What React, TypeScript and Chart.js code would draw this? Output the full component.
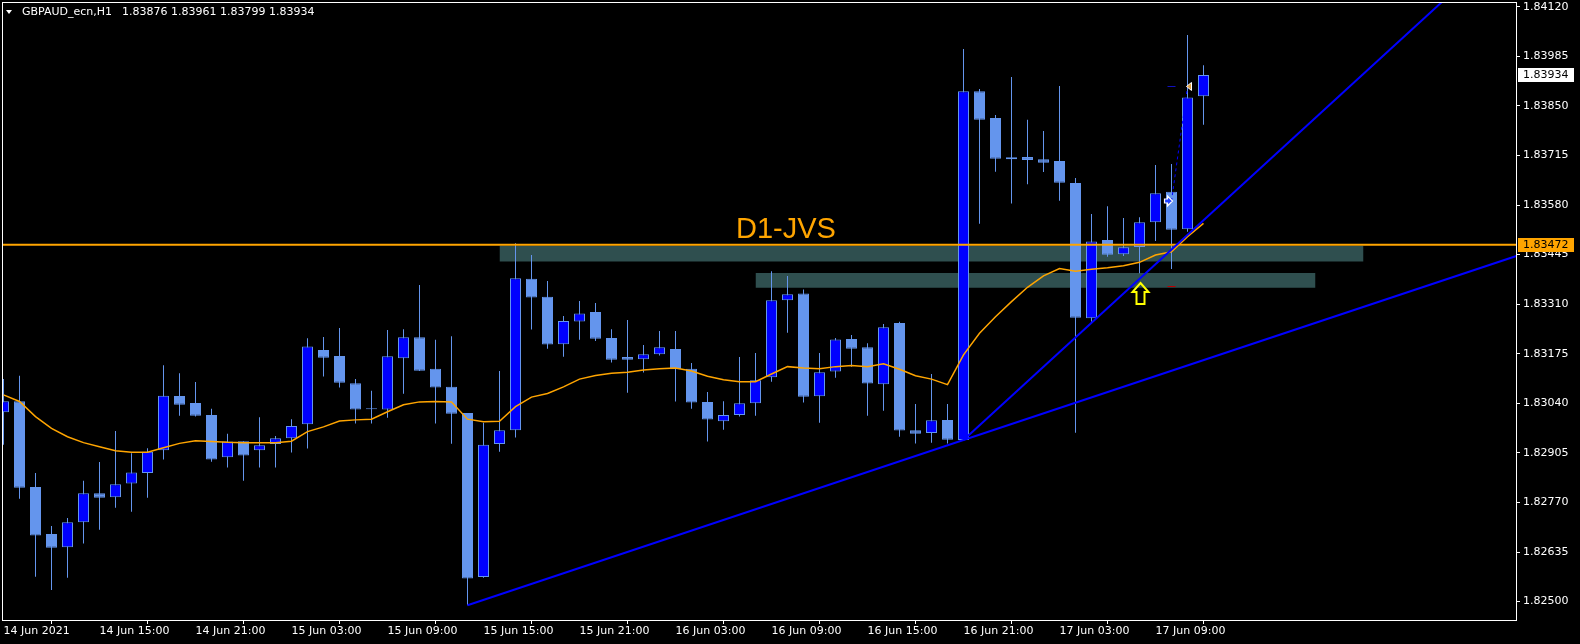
import React, { useEffect, useRef } from "react";
import { Chart, registerables } from "chart.js";
Chart.register(...registerables);

// ---------- data ----------
const symbolTitle = "GBPAUD_ecn,H1";

const opens = [
  1.83016, 1.83046, 1.82812, 1.82684, 1.82648, 1.82716, 1.82795, 1.82784, 1.82822, 1.8285,
  1.82912, 1.8306, 1.83041, 1.83008, 1.82893, 1.82937, 1.82912, 1.82929, 1.82945, 1.82983,
  1.83185, 1.83169, 1.83095, 1.83024, 1.83023, 1.83163, 1.8322, 1.83134, 1.83085, 1.83014,
  1.82567, 1.82929, 1.82967, 1.83379, 1.8333, 1.83201, 1.83263, 1.83289, 1.83218, 1.83166,
  1.8316, 1.83174, 1.83188, 1.83134, 1.83044, 1.82991, 1.83008, 1.8304, 1.83111, 1.83321,
  1.83339, 1.83059, 1.83127, 1.83215, 1.83193, 1.83092, 1.83259, 1.82967, 1.82959, 1.82995,
  1.8294, 1.8389, 1.83817, 1.83705, 1.83711, 1.83705, 1.837, 1.8364, 1.83272, 1.83485,
  1.83446, 1.83466, 1.83533, 1.83616, 1.83514, 1.83876,
];
const highs = [
  1.83106, 1.83115, 1.8285, 1.82706, 1.82728, 1.82829, 1.8288, 1.82965, 1.82904, 1.82918,
  1.83144, 1.83122, 1.83098, 1.83025, 1.82957, 1.82937, 1.83002, 1.82951, 1.82997, 1.83217,
  1.83221, 1.83245, 1.83106, 1.83074, 1.8324, 1.83242, 1.83362, 1.83213, 1.83223, 1.83014,
  1.82987, 1.83128, 1.83476, 1.83444, 1.83373, 1.83278, 1.83319, 1.83313, 1.83242, 1.83267,
  1.83199, 1.83237, 1.83237, 1.8315, 1.83071, 1.83046, 1.83166, 1.83177, 1.834, 1.83387,
  1.8335, 1.83177, 1.83218, 1.83226, 1.83204, 1.83256, 1.83262, 1.83038, 1.8312, 1.83038,
  1.84005, 1.83896, 1.83825, 1.83929, 1.83812, 1.83782, 1.83904, 1.83654, 1.83556, 1.83577,
  1.83545, 1.83547, 1.83689, 1.83692, 1.84043, 1.83961,
];
const lows = [
  1.82927, 1.8278, 1.82568, 1.82532, 1.82565, 1.82658, 1.82696, 1.82756, 1.82745, 1.82783,
  1.82887, 1.83006, 1.83004, 1.82881, 1.82865, 1.82829, 1.82865, 1.82865, 1.82906, 1.82917,
  1.83113, 1.83083, 1.82985, 1.82985, 1.83001, 1.83066, 1.83128, 1.82985, 1.8293, 1.8249,
  1.82565, 1.82908, 1.82947, 1.83241, 1.83189, 1.83167, 1.83213, 1.8321, 1.83151, 1.83069,
  1.83124, 1.8317, 1.83045, 1.83025, 1.82936, 1.82968, 1.83004, 1.83006, 1.83099, 1.83232,
  1.83042, 1.82987, 1.8311, 1.8314, 1.83006, 1.8302, 1.82949, 1.82931, 1.82933, 1.82931,
  1.82938, 1.83529, 1.83671, 1.83584, 1.83637, 1.8367, 1.83592, 1.8296, 1.83262, 1.83439,
  1.83441, 1.83394, 1.83482, 1.83406, 1.83507, 1.83799,
];
const closes = [
  1.83046, 1.8281, 1.8268, 1.82647, 1.82716, 1.82795, 1.82783, 1.8282, 1.82852, 1.82908,
  1.83061, 1.83036, 1.83006, 1.82887, 1.82936, 1.82898, 1.82926, 1.82945, 1.82978, 1.83195,
  1.83164, 1.83096, 1.83023, 1.83024, 1.83168, 1.8322, 1.83129, 1.83083, 1.83012, 1.82563,
  1.82927, 1.82967, 1.83381, 1.83328, 1.832, 1.83264, 1.83285, 1.83216, 1.83159, 1.83159,
  1.83174, 1.83193, 1.83133, 1.83042, 1.82996, 1.83008, 1.8304, 1.83103, 1.83321, 1.83337,
  1.83058, 1.83125, 1.83214, 1.83189, 1.83094, 1.83247, 1.82966, 1.82957, 1.82994, 1.82941,
  1.8389, 1.83812, 1.83706, 1.8371, 1.83703, 1.83695, 1.83641, 1.83273, 1.83481, 1.83445,
  1.83465, 1.83533, 1.83612, 1.83513, 1.83873, 1.83934,
];
const movingAverage = [
  1.83063, 1.83045, 1.83004, 1.82972, 1.82949, 1.82933, 1.82922, 1.82911, 1.82907, 1.82907,
  1.82919, 1.82931, 1.82938, 1.82936, 1.82934, 1.82933, 1.82933, 1.82933, 1.82937, 1.82963,
  1.82976, 1.82992, 1.82995, 1.82997, 1.83017, 1.83036, 1.83044, 1.83045, 1.83044, 1.82997,
  1.8299, 1.82991, 1.83031, 1.83057, 1.83067, 1.83085, 1.83106, 1.83116, 1.83122, 1.83125,
  1.83131, 1.83134, 1.83136, 1.83128, 1.83114, 1.83104, 1.83099, 1.83099, 1.8312, 1.8314,
  1.83136, 1.83134, 1.8314, 1.83143, 1.8314, 1.83148, 1.83133, 1.83115, 1.83106, 1.83091,
  1.83172, 1.83231, 1.83276, 1.83317, 1.83356, 1.83387, 1.83407, 1.834, 1.83405, 1.83409,
  1.83415, 1.83424, 1.83444, 1.83453, 1.83494, 1.8353,
];

const xTickBars = [0, 6, 12, 18, 24, 30, 36, 42, 48, 54, 60, 66, 72];
const xTickLabels = [
  "14 Jun 2021", "14 Jun 15:00", "14 Jun 21:00", "15 Jun 03:00", "15 Jun 09:00",
  "15 Jun 15:00", "15 Jun 21:00", "16 Jun 03:00", "16 Jun 09:00", "16 Jun 15:00",
  "16 Jun 21:00", "17 Jun 03:00", "17 Jun 09:00",
];
const yTicks = [
  1.825, 1.82635, 1.8277, 1.82905, 1.8304, 1.83175, 1.8331, 1.83445, 1.8358, 1.83715,
  1.8385, 1.83985, 1.8412,
];

// chart objects
const levelPrice = 1.83472; // horizontal line "D1-JVS"
const levelName = "D1-JVS";
const levelLabelAnchor = { bar: 48.9, price: 1.83491 };
const zoneUpper = { fromBar: 31, toBar: 85, top: 1.83469, bottom: 1.83426 };
const zoneLower = { fromBar: 47, toBar: 82, top: 1.83395, bottom: 1.83355 };
const trendLow = [
  { x: 29, y: 1.8249 },
  { x: 60, y: 1.8294 },
  { x: 94.6, y: 1.83442 },
];
const trendSteep = [
  { x: 60, y: 1.8294 },
  { x: 89.9, y: 1.84133 },
];
const signalArrow = { bar: 71, price: 1.83367 };
const tradeOpen = { bar: 73, price: 1.83591 };
const tradeClose = { bar: 74, price: 1.83903 };
const takeProfit = { bar: 73, price: 1.83903 };
const stopLoss = { bar: 73, price: 1.8336 };

// view range
const X_MIN = -0.09375;
const X_MAX = 94.53125;
const Y_MIN = 1.8245;
const Y_MAX = 1.84133;

const BULL = "#0000FF";
const BEAR = "#6495ED";
const ORANGE = "#FFA500";
const ZONE = "#2F4F4F";
const FONT = "DejaVu Sans";

export default function App() {
  const ref = useRef<HTMLCanvasElement>(null);

  useEffect(() => {
    document.body.style.margin = "0";
    document.body.style.background = "#000";
    const canvas = ref.current!;
    const idx = opens.map((_, i) => i);
    const isBull = (i: number) => closes[i] > opens[i];

    const bg = {
      id: "bg",
      beforeDraw(chart: any) {
        const c = chart.ctx;
        c.save();
        c.fillStyle = "#000";
        c.fillRect(0, 0, chart.width, chart.height);
        c.restore();
      },
    };

    const overlay = {
      id: "overlay",
      afterDatasetsDraw(chart: any) {
        const c = chart.ctx;
        const xs = chart.scales.x;
        const ys = chart.scales.y;
        const ca = chart.chartArea;
        c.save();
        c.beginPath();
        c.rect(ca.left, ca.top, ca.right - ca.left, ca.bottom - ca.top);
        c.clip();

        // label text of the level
        c.fillStyle = ORANGE;
        c.font = `29px "Liberation Sans", Arial, sans-serif`;
        c.textAlign = "center";
        c.textBaseline = "alphabetic";
        c.fillText(levelName, xs.getPixelForValue(levelLabelAnchor.bar), ys.getPixelForValue(levelLabelAnchor.price));

        // yellow up arrow
        const tx = Math.round(xs.getPixelForValue(signalArrow.bar)) + 0.5;
        const ty = Math.round(ys.getPixelForValue(signalArrow.price));
        c.beginPath();
        c.moveTo(tx, ty);
        c.lineTo(tx + 8, ty + 9);
        c.lineTo(tx + 4, ty + 9);
        c.lineTo(tx + 4, ty + 21);
        c.lineTo(tx - 4, ty + 21);
        c.lineTo(tx - 4, ty + 9);
        c.lineTo(tx - 8, ty + 9);
        c.closePath();
        c.lineWidth = 2;
        c.strokeStyle = "#FFFF00";
        c.stroke();

        // TP / SL dashes
        const dx = xs.getPixelForValue(takeProfit.bar);
        c.lineWidth = 1;
        c.strokeStyle = "#1010C0";
        c.beginPath();
        const tpY = Math.round(ys.getPixelForValue(takeProfit.price)) + 0.5;
        c.moveTo(dx - 4, tpY);
        c.lineTo(dx + 4, tpY);
        c.stroke();
        c.strokeStyle = "#C00000";
        c.beginPath();
        const slY = Math.round(ys.getPixelForValue(stopLoss.price)) + 0.5;
        c.moveTo(dx - 4, slY);
        c.lineTo(dx + 4, slY);
        c.stroke();

        // trade open marker (white arrow pointing right)
        const ox = xs.getPixelForValue(tradeOpen.bar) - 4;
        const oy = ys.getPixelForValue(tradeOpen.price);
        c.beginPath();
        c.moveTo(ox - 3, oy - 2);
        c.lineTo(ox, oy - 2);
        c.lineTo(ox, oy - 5);
        c.lineTo(ox + 5, oy);
        c.lineTo(ox, oy + 5);
        c.lineTo(ox, oy + 2);
        c.lineTo(ox - 3, oy + 2);
        c.closePath();
        c.fillStyle = "#2040FF";
        c.fill();
        c.strokeStyle = "#FFFFFF";
        c.lineWidth = 1.2;
        c.stroke();

        // trade close marker (triangle pointing left)
        const cx = xs.getPixelForValue(tradeClose.bar);
        const cy = ys.getPixelForValue(tradeClose.price);
        c.beginPath();
        c.moveTo(cx - 1, cy);
        c.lineTo(cx + 4, cy - 4);
        c.lineTo(cx + 4, cy + 4);
        c.closePath();
        c.fillStyle = "#E0A040";
        c.fill();
        c.strokeStyle = "#FFFFFF";
        c.lineWidth = 1;
        c.stroke();
        c.restore();
      },
      afterDraw(chart: any) {
        const c = chart.ctx;
        const ys = chart.scales.y;
        const ca = chart.chartArea;
        c.save();
        // frame
        c.strokeStyle = "#FFFFFF";
        c.lineWidth = 1;
        c.strokeRect(ca.left + 0.5, ca.top + 0.5, ca.right - ca.left, ca.bottom - ca.top);

        // price boxes on the axis
        const box = (price: number, fill: string) => {
          const y = Math.round(ys.getPixelForValue(price));
          c.fillStyle = fill;
          c.fillRect(ca.right + 2, y - 7, 56, 14);
          c.fillStyle = "#000";
          c.font = `11px "${FONT}"`;
          c.textAlign = "left";
          c.textBaseline = "middle";
          c.fillText(price.toFixed(5), ca.right + 7, y + 0.5);
        };
        box(closes[closes.length - 1], "#FFFFFF");
        box(levelPrice, ORANGE);

        // header
        const last = opens.length - 1;
        c.fillStyle = "#FFFFFF";
        c.beginPath();
        c.moveTo(6, 10);
        c.lineTo(12, 10);
        c.lineTo(9, 14);
        c.closePath();
        c.fill();
        c.font = `11px "${FONT}"`;
        c.textAlign = "left";
        c.textBaseline = "middle";
        c.fillText(symbolTitle, 22, 12.5);
        c.fillText(
          [opens[last], highs[last], lows[last], closes[last]].map((v) => v.toFixed(5)).join(" "),
          122,
          12.5
        );
        c.restore();
      },
    };

    const lineDs = (data: any[], color: string, width: number, order: number, extra: any = {}) => ({
      type: "line",
      data,
      borderColor: color,
      borderWidth: width,
      pointRadius: 0,
      tension: 0,
      fill: false,
      order,
      ...extra,
    });
    const zoneDs = (z: any) => [
      lineDs(
        [
          { x: z.fromBar, y: z.top },
          { x: z.toBar, y: z.top },
        ],
        "rgba(0,0,0,0)",
        0,
        10,
        { fill: "+1", backgroundColor: ZONE }
      ),
      lineDs(
        [
          { x: z.fromBar, y: z.bottom },
          { x: z.toBar, y: z.bottom },
        ],
        "rgba(0,0,0,0)",
        0,
        10
      ),
    ];

    const chart = new Chart(canvas, {
      type: "bar",
      data: {
        datasets: [
          ...zoneDs(zoneUpper),
          ...zoneDs(zoneLower),
          {
            type: "bar",
            data: idx.map((i) => ({ x: i, y: [lows[i], highs[i]] })),
            backgroundColor: BEAR,
            borderWidth: 0,
            barThickness: 1,
            grouped: false,
            inflateAmount: 0,
            order: 6,
          },
          {
            type: "bar",
            data: idx.map((i) => ({ x: i, y: [opens[i], closes[i]] })),
            backgroundColor: (c: any) => (isBull(c.dataIndex) ? BULL : BEAR),
            borderColor: BEAR,
            borderWidth: 1,
            borderSkipped: false,
            barThickness: 11,
            minBarLength: 1,
            grouped: false,
            inflateAmount: 0,
            order: 5,
          },
          lineDs(idx.map((i) => ({ x: i, y: movingAverage[i] })), ORANGE, 1.5, 4),
          lineDs(
            [
              { x: X_MIN, y: levelPrice },
              { x: X_MAX, y: levelPrice },
            ],
            ORANGE,
            2,
            3
          ),
          lineDs(trendLow, "#0000FF", 2, 2),
          lineDs(trendSteep, "#0000FF", 2, 2),
          lineDs(
            [
              { x: tradeOpen.bar, y: tradeOpen.price },
              { x: tradeClose.bar, y: tradeClose.price },
            ],
            "#0000FF",
            1,
            1,
            { borderDash: [3, 3] }
          ),
        ] as any,
      },
      options: {
        animation: false,
        responsive: false,
        events: [],
        layout: { padding: { left: 2, top: 2, right: 0, bottom: 0 } },
        plugins: {
          legend: { display: false },
          tooltip: { enabled: false },
        },
        scales: {
          x: {
            type: "linear",
            min: X_MIN,
            max: X_MAX,
            offset: false,
            afterBuildTicks: (s: any) => {
              s.ticks = xTickBars.map((v) => ({ value: v }));
            },
            afterFit: (s: any) => {
              s.height = 24;
              s.paddingLeft = 0;
              s.paddingRight = 0;
              s.paddingTop = 0;
              s.paddingBottom = 0;
            },
            ticks: {
              autoSkip: false,
              maxRotation: 0,
              minRotation: 0,
              align: "start",
              color: "#FFFFFF",
              padding: 1,
              font: { family: FONT, size: 11 },
              callback: (_v: any, i: number) => xTickLabels[i],
            },
            grid: { drawOnChartArea: false, drawTicks: true, tickLength: 4, color: "#FFFFFF" },
            border: { display: true, color: "#FFFFFF" },
          },
          y: {
            type: "linear",
            position: "right",
            min: Y_MIN,
            max: Y_MAX,
            afterBuildTicks: (s: any) => {
              s.ticks = yTicks.map((v) => ({ value: v }));
            },
            afterFit: (s: any) => {
              s.width = 64;
              s.paddingLeft = 0;
              s.paddingRight = 0;
              s.paddingTop = 0;
              s.paddingBottom = 0;
            },
            ticks: {
              color: "#FFFFFF",
              padding: 3,
              font: { family: FONT, size: 11 },
              callback: (v: any) => Number(v).toFixed(5),
            },
            grid: { drawOnChartArea: false, drawTicks: true, tickLength: 4, color: "#FFFFFF" },
            border: { display: true, color: "#FFFFFF" },
          },
        },
      } as any,
      plugins: [bg, overlay],
    });
    return () => chart.destroy();
  }, []);

  return (
    <div style={{ width: 1580, height: 644, background: "#000" }}>
      <canvas ref={ref} width={1580} height={644} style={{ display: "block" }} />
    </div>
  );
}
